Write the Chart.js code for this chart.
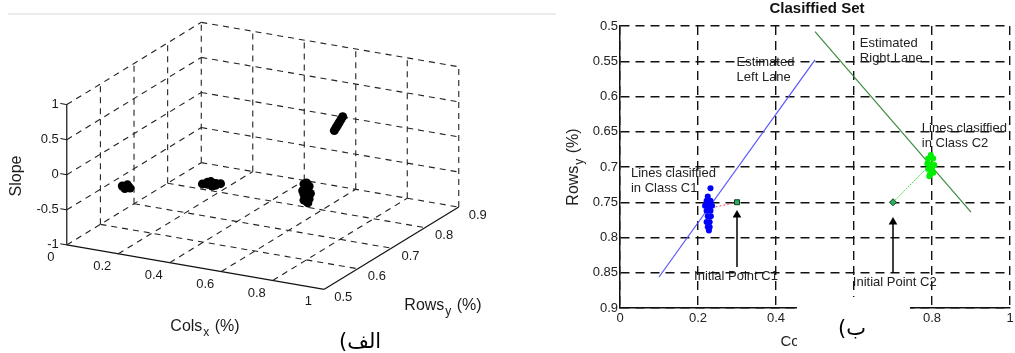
<!DOCTYPE html>
<html>
<head>
<meta charset="utf-8">
<script src="https://cdn.jsdelivr.net/npm/chart.js@4.4.1/dist/chart.umd.min.js"></script>
<style>
  html, body { margin: 0; padding: 0; background: #fff; }
  body { width: 1015px; height: 353px; position: relative; overflow: hidden; }
  #left { position: absolute; left: 0; top: 0; }
  #right { position: absolute; left: 560px; top: 0; }
  .tag { position: absolute; font-family: "DejaVu Sans", serif; font-size: 21px; line-height: 1; color: #000; }
</style>
</head>
<body>
<canvas id="left" width="560" height="353"></canvas>
<canvas id="right" width="455" height="353"></canvas>
<div class="tag" dir="rtl" style="left:339px; top:331px;">الف)</div>
<div class="tag" dir="rtl" style="left:838px; top:318px;">ب)</div>
<script>
const FONT = '"Liberation Sans", Arial, sans-serif';

// ---------- left panel: 3D view (Cols, Rows, Slope) ----------
const colTicks = [0, 0.2, 0.4, 0.6, 0.8, 1];
const rowTicks = [0.5, 0.6, 0.7, 0.8, 0.9];
const slopeTicks = [-1, -0.5, 0, 0.5, 1];

// [cols, rows, slope] for each detected line
const groupA = [[0.085, 0.6, -0.40], [0.100, 0.6, -0.39], [0.115, 0.6, -0.41], [0.095, 0.6, -0.43], [0.105, 0.6, -0.37], [0.100, 0.6, -0.40]];
const groupB = [[0.220, 0.735, -0.68], [0.225, 0.745, -0.71], [0.220, 0.755, -0.74], [0.225, 0.765, -0.76], [0.220, 0.775, -0.79],
                [0.225, 0.785, -0.82], [0.220, 0.750, -0.70], [0.225, 0.770, -0.80], [0.220, 0.760, -0.72], [0.225, 0.760, -0.78]];
const groupC = [[0.660, 0.70, -0.30], [0.680, 0.70, -0.32], [0.655, 0.70, -0.40], [0.685, 0.70, -0.42], [0.670, 0.70, -0.48],
                [0.660, 0.70, -0.53], [0.675, 0.70, -0.56], [0.670, 0.70, -0.38], [0.680, 0.69, -0.27], [0.665, 0.70, -0.35],
                [0.675, 0.70, -0.45], [0.660, 0.70, -0.45], [0.680, 0.70, -0.50], [0.670, 0.70, -0.28]];
const groupD = [[0.8, 0.683, 0.600], [0.8, 0.688, 0.625], [0.8, 0.693, 0.650], [0.8, 0.698, 0.675], [0.8, 0.703, 0.700], [0.8, 0.708, 0.725]];

// projection of the box onto the canvas
const origin = [63.3, 246.7];
const ex = [261.7, 45.6];
const ey = [341.7, -211];
const ez = [0, -72];
function proj(c, r, s) {
  const dr = r - 0.5, ds = s + 1;
  return { x: origin[0] + c * ex[0] + dr * ey[0] + ds * ez[0],
           y: origin[1] + c * ex[1] + dr * ey[1] + ds * ez[1] };
}

const leftSets = [];
[groupA, groupB, groupC, groupD].forEach(g => {
  leftSets.push({ data: g.map(p => proj(p[0], p[1], p[2])), pointRadius: 4.5, backgroundColor: '#000',
                  borderWidth: 0, order: 0 });
});

function seg(a, b, dashed, width) {
  leftSets.push({ data: [proj(...a), proj(...b)], showLine: true, pointRadius: 0, borderColor: dashed ? '#222' : '#111',
                  borderWidth: width, borderDash: dashed ? [6, 5] : [], order: 2 });
}
// floor
rowTicks.slice(1).forEach(r => seg([0, r, -1], [1, r, -1], true, 1.1));
colTicks.slice(0, -1).forEach(c => seg([c, 0.5, -1], [c, 0.9, -1], true, 1.1));
// left wall (Cols = 0)
rowTicks.slice(1).forEach(r => seg([0, r, -1], [0, r, 1], true, 1.1));
slopeTicks.slice(1).forEach(s => seg([0, 0.5, s], [0, 0.9, s], true, 1.1));
// back wall (Rows = 0.9)
colTicks.slice(1).forEach(c => seg([c, 0.9, -1], [c, 0.9, 1], true, 1.1));
slopeTicks.slice(1).forEach(s => seg([0, 0.9, s], [1, 0.9, s], true, 1.1));
// solid axes and tick marks
seg([0, 0.5, -1], [1, 0.5, -1], false, 1.2);
seg([1, 0.5, -1], [1, 0.9, -1], false, 1.2);
seg([0, 0.5, -1], [0, 0.5, 1], false, 1.2);
slopeTicks.forEach(s => seg([0, 0.5, s], [-0.025, 0.5, s], false, 1));

function subText(ctx, base, sub, rest, x, y, size) {
  ctx.font = size + 'px ' + FONT;
  const w1 = ctx.measureText(base).width;
  const w3 = ctx.measureText(rest).width;
  ctx.font = (size - 4) + 'px ' + FONT;
  const w2 = ctx.measureText(sub).width;
  let cx = x - (w1 + w2 + w3) / 2;
  ctx.textAlign = 'left';
  ctx.font = size + 'px ' + FONT;
  ctx.fillText(base, cx, y);
  ctx.font = (size - 4) + 'px ' + FONT;
  ctx.fillText(sub, cx + w1 + 1, y + 5);
  ctx.font = size + 'px ' + FONT;
  ctx.fillText(rest, cx + w1 + w2 + 2, y);
}

const leftDecor = {
  id: 'leftDecor',
  beforeDatasetsDraw(chart) {
    const ctx = chart.ctx;
    ctx.save();
    ctx.strokeStyle = '#ececec';
    ctx.lineWidth = 2;
    ctx.beginPath(); ctx.moveTo(8, 14); ctx.lineTo(556, 14); ctx.stroke();
    ctx.restore();
  },
  afterDraw(chart) {
    const ctx = chart.ctx, sx = chart.scales.x, sy = chart.scales.y;
    const P = (c, r, s) => { const p = proj(c, r, s); return [sx.getPixelForValue(p.x), sy.getPixelForValue(p.y)]; };
    ctx.save();
    ctx.fillStyle = '#1a1a1a';
    ctx.font = '13px ' + FONT;
    ctx.textBaseline = 'middle';
    ctx.textAlign = 'right';
    slopeTicks.forEach(s => { const [x, y] = P(0, 0.5, s); ctx.fillText(String(s), x - 8, y); });
    ctx.textAlign = 'center';
    colTicks.forEach(c => { const [x, y] = P(c, 0.5, -1); ctx.fillText(String(c), x - 16, y + 12.5); });
    rowTicks.forEach(r => { const [x, y] = P(1, r, -1); ctx.fillText(String(r), x + 19, y + 8); });

    ctx.textBaseline = 'alphabetic';
    subText(ctx, 'Cols', 'x', ' (%)', 204, 331, 16);
    subText(ctx, 'Rows', 'y', ' (%)', 442, 310, 16);
    ctx.translate(17, 176);
    ctx.rotate(-Math.PI / 2);
    ctx.textAlign = 'center';
    ctx.textBaseline = 'middle';
    ctx.font = '16px ' + FONT;
    ctx.fillText('Slope', 0, 0);
    ctx.restore();
  }
};

new Chart(document.getElementById('left'), {
  type: 'scatter',
  data: { datasets: leftSets },
  options: {
    responsive: false,
    animation: false,
    layout: { padding: 0 },
    plugins: { legend: { display: false }, tooltip: { enabled: false } },
    scales: {
      x: { type: 'linear', min: 0, max: 560, display: false },
      y: { type: 'linear', min: 0, max: 353, reverse: true, display: false }
    }
  },
  plugins: [leftDecor]
});

// ---------- right panel: Classified Set ----------
const c1Cols = [0.232, 0.225, 0.222, 0.232, 0.218, 0.228, 0.236, 0.222, 0.232, 0.225, 0.233, 0.222, 0.230, 0.225, 0.230, 0.228];
const c1Rows = [0.730, 0.742, 0.748, 0.748, 0.755, 0.755, 0.755, 0.762, 0.762, 0.770, 0.770, 0.778, 0.778, 0.785, 0.785, 0.790];
const c2Cols = [0.797, 0.790, 0.803, 0.788, 0.797, 0.806, 0.790, 0.800, 0.795, 0.803, 0.793];
const c2Rows = [0.683, 0.688, 0.688, 0.695, 0.696, 0.697, 0.703, 0.703, 0.710, 0.708, 0.713];
const c1Centre = [0.234, 0.758];
const c2Centre = [0.797, 0.696];
const initC1 = [0.3, 0.75];
const initC2 = [0.7, 0.75];
const leftLaneCols = [0.1, 0.5];
const leftLaneRows = [0.856, 0.548];
const rightLaneCols = [0.5, 0.9];
const rightLaneRows = [0.508, 0.764];
const arrowC1Rows = [0.842, 0.768];
const arrowC2Rows = [0.850, 0.778];

const notes = [
  { lines: ['Estimated', 'Left Lane'], x: 0.299, y: 0.5425 },
  { lines: ['Estimated', 'Right Lane'], x: 0.615, y: 0.516 },
  { lines: ['Lines clasiffied', 'in Class C1'], x: 0.028, y: 0.700 },
  { lines: ['Lines clasiffied', 'in Class C2'], x: 0.774, y: 0.636 },
  { lines: ['Initial Point C1'], x: 0.19, y: 0.846 },
  { lines: ['Initial Point C2'], x: 0.597, y: 0.855 }
];

const pts = (xs, ys) => xs.map((x, i) => ({ x, y: ys[i] }));

const rightDecor = {
  id: 'rightDecor',
  afterDraw(chart) {
    const ctx = chart.ctx, sx = chart.scales.x, sy = chart.scales.y, area = chart.chartArea;
    ctx.save();
    ctx.fillStyle = '#222';
    ctx.font = '13px ' + FONT;
    ctx.textAlign = 'left';
    ctx.textBaseline = 'top';
    notes.forEach(n => {
      const x = sx.getPixelForValue(n.x), y = sy.getPixelForValue(n.y);
      n.lines.forEach((t, i) => ctx.fillText(t, x, y + i * 15));
    });

    ctx.fillStyle = '#111';
    ctx.textAlign = 'center';
    ctx.textBaseline = 'middle';
    ctx.font = 'bold 15px ' + FONT;
    ctx.fillText('Clasiffied Set', 257, 9);

    ctx.textBaseline = 'alphabetic';
    ctx.fillStyle = '#222';
    subText(ctx, 'Cols', 'x', ' (%)', (area.left + area.right) / 2 - 3, 346, 15);

    // blank patch over the bottom of the panel
    ctx.fillStyle = '#fff';
    ctx.fillRect(237, 297, 113, 56);

    ctx.translate(13, 168);
    ctx.rotate(-Math.PI / 2);
    ctx.fillStyle = '#222';
    subText(ctx, 'Rows', 'y', ' (%)', 0, 5, 16);
    ctx.restore();
  }
};

new Chart(document.getElementById('right'), {
  type: 'scatter',
  data: {
    datasets: [
      { data: pts(c1Cols, c1Rows), pointRadius: 3, backgroundColor: '#0000ff', borderWidth: 0, order: 1 },
      { data: pts(c2Cols, c2Rows), pointRadius: 3, backgroundColor: '#00ee00', borderWidth: 0, order: 1 },
      { data: [{ x: initC1[0], y: initC1[1] }, { x: c1Centre[0], y: c1Centre[1] }], showLine: true,
        borderColor: '#ff4444', borderWidth: 1, borderDash: [2, 2], pointRadius: 0, order: 2 },
      { data: [{ x: initC2[0], y: initC2[1] }, { x: c2Centre[0], y: c2Centre[1] }], showLine: true,
        borderColor: '#44dd44', borderWidth: 1, borderDash: [2, 1], pointRadius: 0, order: 2 },
      { data: pts(leftLaneCols, leftLaneRows), showLine: true, borderColor: '#5555ff', borderWidth: 1.2, pointRadius: 0, order: 3 },
      { data: pts(rightLaneCols, rightLaneRows), showLine: true, borderColor: '#3d8b3d', borderWidth: 1.2, pointRadius: 0, order: 3 },
      { data: [{ x: initC1[0], y: initC1[1] }], pointStyle: 'rect', pointRadius: 3.5, backgroundColor: '#2fae5f',
        borderColor: '#0b3d1b', borderWidth: 1, order: 0 },
      { data: [{ x: initC2[0], y: initC2[1] }], pointStyle: 'rectRot', pointRadius: 3.5, backgroundColor: '#2fae5f',
        borderColor: '#0b3d1b', borderWidth: 1, order: 0 },
      { data: pts([initC1[0], initC1[0]], arrowC1Rows), showLine: true, borderColor: '#000', borderWidth: 1.5,
        pointRadius: [0, 5], pointStyle: 'triangle', backgroundColor: '#000', pointBorderWidth: 0, order: 0 },
      { data: pts([initC2[0], initC2[0]], arrowC2Rows), showLine: true, borderColor: '#000', borderWidth: 1.5,
        pointRadius: [0, 5], pointStyle: 'triangle', backgroundColor: '#000', pointBorderWidth: 0, order: 0 }
    ]
  },
  options: {
    responsive: false,
    animation: false,
    layout: { padding: { top: 26, left: 0, right: 0, bottom: 0 } },
    plugins: { legend: { display: false }, tooltip: { enabled: false } },
    scales: {
      x: {
        type: 'linear', min: 0, max: 1, position: 'bottom',
        ticks: { stepSize: 0.2, color: '#222', font: { family: FONT, size: 13 }, padding: 3, maxRotation: 0,
                 callback: v => String(+v.toFixed(2)) },
        grid: { color: '#111', lineWidth: 1.4, drawTicks: false },
        border: { display: true, color: '#111', width: 1.5, dash: [9, 6] },
        afterFit: s => { s.height = 45; s.paddingLeft = 0; s.paddingRight = 0; }
      },
      y: {
        type: 'linear', min: 0.5, max: 0.9, reverse: true,
        ticks: { stepSize: 0.05, color: '#222', font: { family: FONT, size: 13 }, padding: 2,
                 callback: v => String(+v.toFixed(2)) },
        grid: { color: '#111', lineWidth: 1.4, drawTicks: false },
        border: { display: true, color: '#111', width: 1.5, dash: [9, 6] },
        afterFit: s => { s.width = 60; s.paddingTop = 0; s.paddingBottom = 0; }
      }
    }
  },
  plugins: [rightDecor]
});
</script>
</body>
</html>
